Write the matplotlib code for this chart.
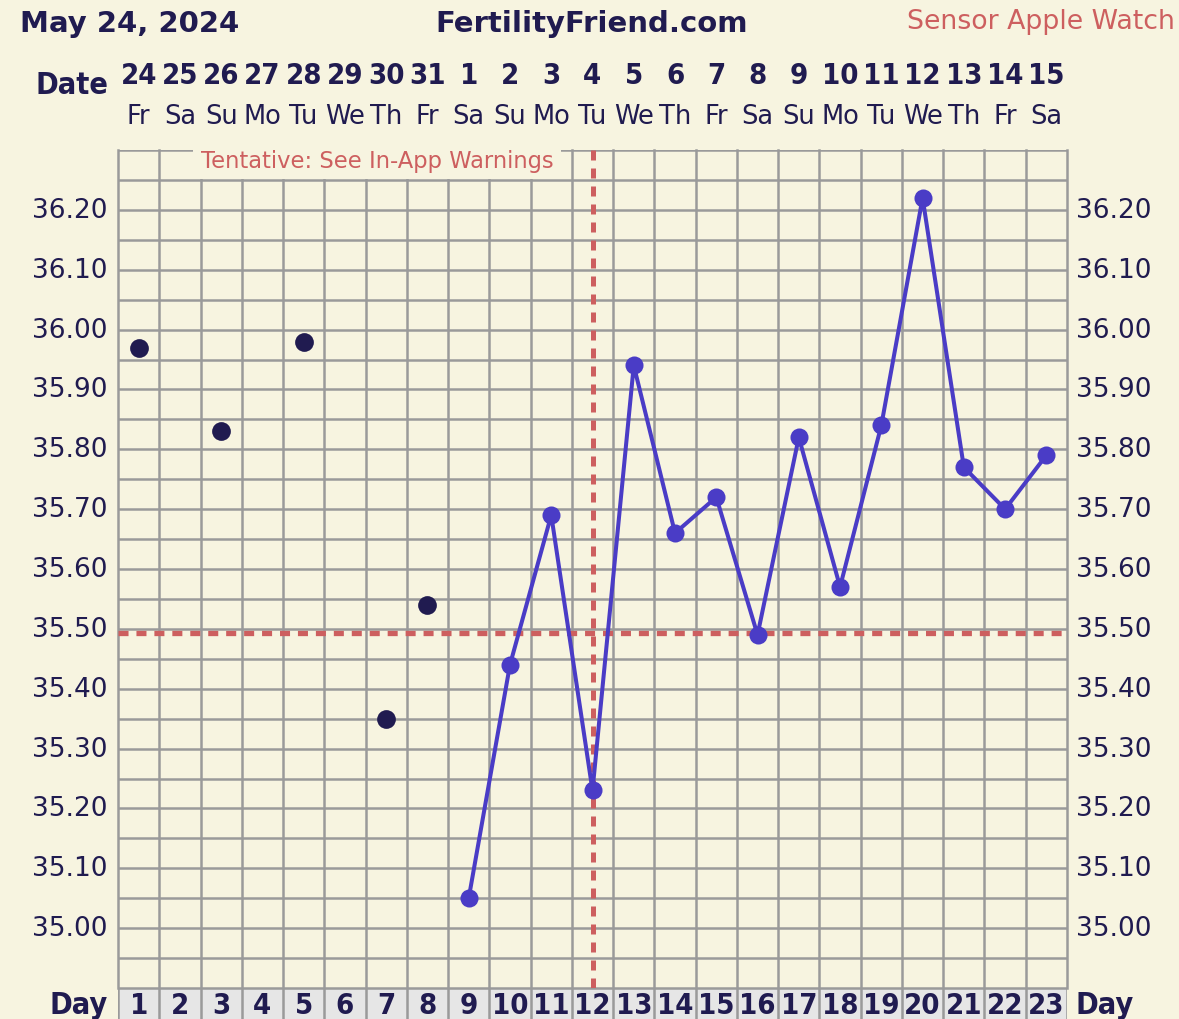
import matplotlib
matplotlib.use("Agg")
import matplotlib.pyplot as plt
from matplotlib import font_manager as fm
import matplotlib.transforms as mtransforms

# ---------------- data ----------------
cycle_days = list(range(1, 24))
date_nums = ["24", "25", "26", "27", "28", "29", "30", "31", "1", "2", "3", "4",
             "5", "6", "7", "8", "9", "10", "11", "12", "13", "14", "15"]
weekdays = ["Fr", "Sa", "Su", "Mo", "Tu", "We", "Th", "Fr", "Sa", "Su", "Mo", "Tu",
            "We", "Th", "Fr", "Sa", "Su", "Mo", "Tu", "We", "Th", "Fr", "Sa"]

# early (unconnected) readings
early_days = [1, 3, 5, 7, 8]
early_temps = [35.97, 35.83, 35.98, 35.35, 35.54]
# connected readings
line_days = [9, 10, 11, 12, 13, 14, 15, 16, 17, 18, 19, 20, 21, 22, 23]
line_temps = [35.05, 35.44, 35.69, 35.23, 35.94, 35.66, 35.72, 35.49, 35.82,
              35.57, 35.84, 36.22, 35.77, 35.70, 35.79]

coverline = 35.493
ovulation_day = 12
ytick_vals = [35.00, 35.10, 35.20, 35.30, 35.40, 35.50, 35.60, 35.70, 35.80,
              35.90, 36.00, 36.10, 36.20]

title_left = "May 24, 2024"
title_center = "FertilityFriend.com"
title_right = "Sensor Apple Watch"
tentative_text = "Tentative: See In-App Warnings"

# ---------------- style ----------------
BG = "#F7F4E0"
NAVY = "#201B50"
RED = "#CD5F5F"
BLUE = "#4A3CC6"
GRID = "#9A9A9A"
CELL = "#E6E6E6"

# look for a condensed / narrow bold font
narrow_props = None
for f in fm.fontManager.ttflist:
    nm = (f.name + " " + f.fname).lower()
    if ("condensed" in nm or "narrow" in nm) and f.weight in ("bold", 700, "heavy"):
        narrow_props = fm.FontProperties(fname=f.fname)
        if "dejavu" in nm:
            break
if narrow_props is None:
    narrow_props = fm.FontProperties(family="Liberation Sans", weight="bold")

plt.rcParams["font.family"] = ["DejaVu Sans"]

W, H = 1179, 1020
fig = plt.figure(figsize=(W / 100, H / 100), dpi=100, facecolor=BG)

L, R = 118, 1067
TOP, BOT = 151, 989
ax = fig.add_axes([L / W, (H - BOT) / H, (R - L) / W, (BOT - TOP) / H])
ax.set_facecolor(BG)
ax.set_xlim(0.5, 23.5)
ax.set_ylim(34.90, 36.30)

# grid
for xb in [d + 0.5 for d in range(0, 24)]:
    ax.axvline(xb, color=GRID, lw=1.8, zorder=1, clip_on=False)
yv = 34.90
while yv < 36.31:
    ax.axhline(yv, color=GRID, lw=1.8, zorder=1)
    yv = round(yv + 0.05, 2)

for s in ax.spines.values():
    s.set_visible(False)
ax.set_xticks([])
ax.set_yticks([])

# coverline & ovulation line
ax.axhline(coverline, color=RED, lw=3.8, linestyle=(0, (1.9, 1.5)), zorder=3)
ax.axvline(ovulation_day, color=RED, lw=3.6, linestyle=(0, (2.0, 1.6)), zorder=3)

# data
ax.plot(line_days, line_temps, color=BLUE, lw=2.9, marker="o", ms=13,
        markeredgewidth=0, zorder=5, clip_on=False)
ax.plot(early_days, early_temps, linestyle="none", color=NAVY, marker="o", ms=13.5,
        markeredgewidth=0, zorder=5)

# tentative label (covers top grid line)
ax.text(6.78, 36.283, tentative_text, color=RED, fontsize=16.3, ha="center", va="center",
        zorder=6, bbox=dict(facecolor=BG, edgecolor="none", pad=5.5))

# y tick labels on both sides
blend_y = mtransforms.blended_transform_factory(fig.transFigure, ax.transData)
for v in ytick_vals:
    fig.text(108 / W, v, f"{v:.2f}", transform=blend_y, ha="right", va="center",
             fontsize=19, color=NAVY)
    fig.text(1076 / W, v, f"{v:.2f}", transform=blend_y, ha="left", va="center",
             fontsize=19, color=NAVY)

# header rows
blend_x = mtransforms.blended_transform_factory(ax.transData, fig.transFigure)
for d, dn, wd in zip(cycle_days, date_nums, weekdays):
    fig.text(d, (H - 76) / H, dn, transform=blend_x, ha="center", va="center",
             fontsize=21, color=NAVY, fontproperties=narrow_props)
    fig.text(d, (H - 117) / H, wd, transform=blend_x, ha="center", va="center",
             fontsize=18.5, color=NAVY)

fig.text(108 / W, (H - 85) / H, "Date", ha="right", va="center",
         color=NAVY, fontproperties=narrow_props, fontsize=22)

# titles
fig.text(20 / W, (H - 24) / H, title_left, ha="left", va="center", fontsize=21,
         fontweight="bold", color=NAVY)
fig.text(592 / W, (H - 24) / H, title_center, ha="center", va="center", fontsize=21,
         fontweight="bold", color=NAVY)
fig.text(1175 / W, (H - 22) / H, title_right, ha="right", va="center", fontsize=19.3,
         color=RED)

# day row
dax = fig.add_axes([L / W, -10 / H, (R - L) / W, (H - BOT + 10) / H])
dax.set_xlim(0.5, 23.5)
dax.set_ylim(0, 1)
dax.set_facecolor(CELL)
for s in dax.spines.values():
    s.set_visible(False)
dax.set_xticks([])
dax.set_yticks([])
for xb in [d + 0.5 for d in range(0, 24)]:
    dax.axvline(xb, color=GRID, lw=1.8)
dax.axhline(1, color=GRID, lw=1.8)
for d in cycle_days:
    fig.text(d, (H - 1006) / H, str(d), transform=blend_x, ha="center", va="center",
             fontsize=21, color=NAVY, fontproperties=narrow_props)
fig.text(108 / W, (H - 1006) / H, "Day", ha="right", va="center",
         color=NAVY, fontproperties=narrow_props, fontsize=22)
fig.text(1075 / W, (H - 1006) / H, "Day", ha="left", va="center",
         color=NAVY, fontproperties=narrow_props, fontsize=22)

fig.savefig("out.png", dpi=100, facecolor=BG)
